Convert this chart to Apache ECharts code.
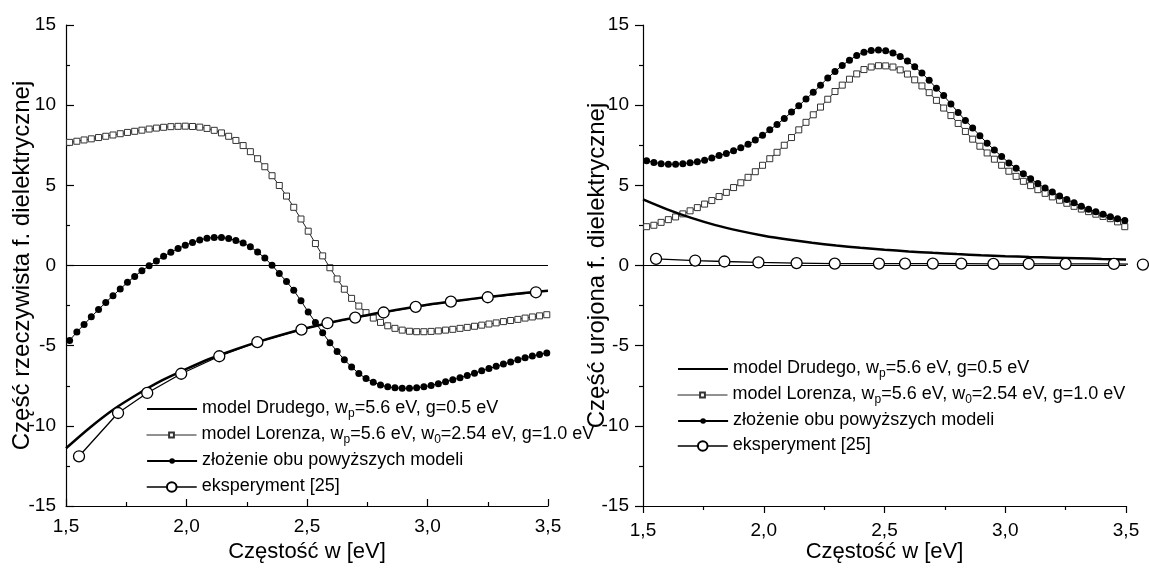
<!DOCTYPE html>
<html>
<head>
<meta charset="utf-8">
<script src="https://cdn.jsdelivr.net/npm/echarts@6/dist/echarts.min.js"></script>
<style>
html,body{margin:0;padding:0;background:#fff;}
#c{width:1149px;height:568px;}
</style>
</head>
<body>
<div id="c"></div>
<script>
// ---------- data ----------
// Drude model (solid line), sampled every 0.1 eV
const drudeX = [1.5,1.6,1.7,1.8,1.9,2.0,2.1,2.2,2.3,2.4,2.5,2.6,2.7,2.8,2.9,3.0,3.1,3.2,3.3,3.4,3.5];
const drudeRe = [-11.4,-10.1,-8.95,-8.0,-7.15,-6.45,-5.8,-5.25,-4.75,-4.3,-3.9,-3.55,-3.25,-2.95,-2.7,-2.45,-2.25,-2.05,-1.88,-1.72,-1.58];
const drudeIm = [4.12,3.5,2.97,2.52,2.16,1.86,1.62,1.42,1.25,1.1,0.98,0.88,0.79,0.71,0.64,0.58,0.53,0.49,0.45,0.41,0.38];

// Lorentz model and combined model (symbols)
const modelX = [1.515,1.545,1.575,1.605,1.635,1.665,1.695,1.725,1.755,1.785,
  1.815,1.845,1.875,1.905,1.935,1.965,1.995,2.025,2.055,2.085,
  2.115,2.145,2.175,2.205,2.235,2.265,2.295,2.325,2.355,2.385,
  2.415,2.445,2.475,2.505,2.535,2.565,2.595,2.625,2.655,2.685,
  2.715,2.745,2.775,2.805,2.835,2.865,2.895,2.925,2.955,2.985,
  3.015,3.045,3.075,3.105,3.135,3.165,3.195,3.225,3.255,3.285,
  3.315,3.345,3.375,3.405,3.435,3.465,3.495];
const lorentzRe = [7.68,7.75,7.83,7.9,7.98,8.06,8.14,8.22,8.3,8.37,
  8.44,8.51,8.57,8.62,8.66,8.68,8.69,8.67,8.63,8.55,
  8.43,8.27,8.06,7.8,7.48,7.1,6.66,6.16,5.6,4.99,
  4.33,3.63,2.9,2.14,1.37,0.6,-0.14,-0.84,-1.48,-2.05,
  -2.53,-2.94,-3.28,-3.55,-3.76,-3.92,-4.03,-4.1,-4.13,-4.13,
  -4.11,-4.08,-4.03,-3.98,-3.92,-3.86,-3.79,-3.72,-3.65,-3.58,
  -3.5,-3.43,-3.36,-3.28,-3.21,-3.14,-3.07];
const sumRe = [-4.67,-4.15,-3.68,-3.2,-2.75,-2.3,-1.88,-1.47,-1.05,-0.68,
  -0.32,-0.02,0.28,0.58,0.83,1.06,1.27,1.44,1.59,1.7,
  1.75,1.74,1.68,1.56,1.4,1.17,0.84,0.46,0.02,-0.5,
  -1.0,-1.55,-2.2,-2.9,-3.55,-4.2,-4.82,-5.36,-5.88,-6.33,
  -6.74,-7.05,-7.28,-7.46,-7.57,-7.63,-7.66,-7.66,-7.63,-7.57,
  -7.48,-7.37,-7.25,-7.13,-7.0,-6.86,-6.72,-6.57,-6.43,-6.29,
  -6.15,-6.02,-5.88,-5.76,-5.65,-5.55,-5.45];
const lorentzIm = [2.42,2.51,2.69,2.86,3.03,3.22,3.41,3.61,3.83,4.05,
  4.3,4.56,4.86,5.16,5.5,5.85,6.25,6.66,7.06,7.5,
  7.98,8.46,8.93,9.4,9.88,10.37,10.85,11.25,11.62,11.95,
  12.22,12.38,12.46,12.45,12.38,12.2,11.94,11.58,11.2,10.78,
  10.3,9.82,9.35,8.86,8.36,7.88,7.44,7.02,6.63,6.25,
  5.88,5.56,5.25,4.98,4.73,4.5,4.28,4.07,3.88,3.69,
  3.52,3.36,3.2,3.06,2.92,2.72,2.42];
const sumIm = [6.53,6.43,6.35,6.31,6.31,6.35,6.41,6.47,6.57,6.71,
  6.86,6.98,7.15,7.34,7.56,7.82,8.12,8.46,8.8,9.17,
  9.57,9.96,10.38,10.8,11.24,11.7,12.1,12.48,12.8,13.1,
  13.3,13.41,13.44,13.39,13.26,13.03,12.75,12.39,12.0,11.55,
  11.05,10.6,10.07,9.55,9.05,8.58,8.1,7.62,7.2,6.8,
  6.4,6.07,5.72,5.41,5.11,4.83,4.58,4.34,4.12,3.91,
  3.7,3.51,3.35,3.19,3.04,2.92,2.8];

// Experiment [25]
const expXRe = [1.554,1.716,1.837,1.978,2.136,2.294,2.477,2.585,2.70,2.818,2.951,3.097,3.25,3.45];
const expRe  = [-11.9,-9.2,-7.95,-6.75,-5.66,-4.78,-4.0,-3.6,-3.25,-2.93,-2.58,-2.25,-1.98,-1.67];
const expXIm = [1.554,1.716,1.837,1.978,2.136,2.294,2.477,2.585,2.70,2.818,2.951,3.097,3.25,3.45,3.57];
const expIm  = [0.41,0.31,0.25,0.19,0.15,0.12,0.12,0.12,0.12,0.12,0.1,0.1,0.1,0.1,0.06];

// axis / text
const xTicks = [1.5, 2.0, 2.5, 3.0, 3.5];
const xTitle = 'Częstość w [eV]';
const yTitleRe = 'Część rzeczywista f. dielektrycznej';
const yTitleIm = 'Część urojona f. dielektrycznej';
const names = ['Drude', 'Lorentz', 'Sum', 'Exp'];
const legendRich = {
  Drude: '{t|model Drudego, w}{s|p}{t|=5.6 eV, g=0.5 eV}',
  Lorentz: '{t|model Lorenza, w}{s|p}{t|=5.6 eV, w}{s|0}{t|=2.54 eV, g=1.0 eV}',
  Sum: '{t|złożenie obu powyższych modeli}',
  Exp: '{t|eksperyment [25]}'
};

// ---------- build ----------
const zip = (xs, ys) => xs.map((x, i) => [x, ys[i]]);
const FONT = 'Liberation Sans, Arial, sans-serif';

function xAxis(gi, inside) {
  return {
    gridIndex: gi, type: 'value', min: xTicks[0], max: xTicks[xTicks.length - 1], interval: 0.5,
    axisLine: { onZero: false, lineStyle: { color: '#000', width: 1.2 } },
    axisTick: { inside: inside, length: 7, lineStyle: { color: '#000', width: 1.2 } },
    minorTick: { show: true, splitNumber: 2, length: 4, lineStyle: { color: '#000', width: 1.2 } },
    splitLine: { show: false },
    axisLabel: { color: '#000', fontSize: 19, fontFamily: FONT, margin: inside ? 11 : 15,
      formatter: v => v.toFixed(1).replace('.', ',') },
    name: xTitle, nameLocation: 'middle', nameGap: 35, nameMoveOverlap: false,
    nameTextStyle: { color: '#000', fontSize: 22, fontFamily: FONT }
  };
}
function yAxis(gi, inside, title) {
  return {
    gridIndex: gi, type: 'value', min: -15, max: 15, interval: 5,
    axisLine: { onZero: false, lineStyle: { color: '#000', width: 1.2 } },
    axisTick: { inside: inside, length: 8, lineStyle: { color: '#000', width: 1.2 } },
    minorTick: { show: true, splitNumber: 2, length: 4, lineStyle: { color: '#000', width: 1.2 } },
    splitLine: { show: false },
    axisLabel: { color: '#000', fontSize: 19, fontFamily: FONT, margin: inside ? 10 : 14 },
    name: title, nameLocation: 'middle', nameRotate: 90, nameGap: inside ? 32 : 34,
    nameMoveOverlap: false,
    nameTextStyle: { color: '#000', fontSize: 24, fontFamily: FONT }
  };
}
function seriesFor(gi, dRe, lor, sum, exX, ex) {
  return [
    { name: 'Drude', type: 'line', xAxisIndex: gi, yAxisIndex: gi, data: zip(drudeX, dRe),
      symbol: 'none', smooth: 0.3, lineStyle: { color: '#000', width: 2.5 }, itemStyle: { color: '#000' },
      z: 3,
      markLine: { silent: true, symbol: 'none', label: { show: false },
        lineStyle: { color: '#000', width: 1, type: 'solid' }, data: [{ yAxis: 0 }] } },
    { name: 'Lorentz', type: 'line', xAxisIndex: gi, yAxisIndex: gi, data: zip(modelX, lor),
      symbol: 'rect', symbolSize: 6, lineStyle: { color: '#222', width: 1 },
      itemStyle: { color: '#fff', borderColor: '#333', borderWidth: 1 }, z: 2 },
    { name: 'Sum', type: 'line', xAxisIndex: gi, yAxisIndex: gi, data: zip(modelX, sum),
      symbol: 'circle', symbolSize: 7, lineStyle: { color: '#000', width: 1 },
      itemStyle: { color: '#000' }, z: 4 },
    { name: 'Exp', type: 'line', xAxisIndex: gi, yAxisIndex: gi, data: zip(exX, ex),
      symbol: 'circle', symbolSize: 11, clip: false, lineStyle: { color: '#000', width: 1.3 },
      itemStyle: { color: '#fff', borderColor: '#000', borderWidth: 1.3 }, z: 5 }
  ];
}
// legend rows (one legend per row to allow different marker sizes)
function legends(left, centers) {
  const cfg = {
    Drude:   { h: 10, item: { itemStyle: { opacity: 0 } } },
    Lorentz: { h: 6,  item: { lineStyle: { width: 1 } } },
    Sum:     { h: 7,  item: { lineStyle: { width: 2.2 } } },
    Exp:     { h: 12, item: { lineStyle: { width: 1.5 } } }
  };
  return names.map((n, i) => ({
    left: left, top: centers[i] - 10, orient: 'vertical', padding: 0,
    itemWidth: 50, itemHeight: cfg[n].h, selectedMode: false,
    data: [Object.assign({ name: n }, cfg[n].item)],
    formatter: nm => legendRich[nm],
    textStyle: { color: '#000', fontFamily: FONT,
      rich: { t: { fontSize: 18, lineHeight: 20, fontFamily: FONT, color: '#000', verticalAlign: 'top' },
              s: { fontSize: 12, lineHeight: 11, fontFamily: FONT, color: '#000', padding: [9, 0, 0, 0], verticalAlign: 'top' } } }
  }));
}

const chart = echarts.init(document.getElementById('c'), null, { renderer: 'canvas' });
chart.setOption({
  backgroundColor: '#fff',
  animation: false,
  grid: [
    { left: 66, top: 25, width: 482, height: 482 },
    { left: 643, top: 25, width: 483, height: 482 }
  ],
  xAxis: [xAxis(0, true), xAxis(1, false)],
  yAxis: [yAxis(0, true, yTitleRe), yAxis(1, false, yTitleIm)],
  legend: legends(146, [409, 435, 461, 487]).concat(legends(677, [369, 395, 421, 446])),
  series: seriesFor(0, drudeRe, lorentzRe, sumRe, expXRe, expRe)
    .concat(seriesFor(1, drudeIm, lorentzIm, sumIm, expXIm, expIm))
});
</script>
</body>
</html>
